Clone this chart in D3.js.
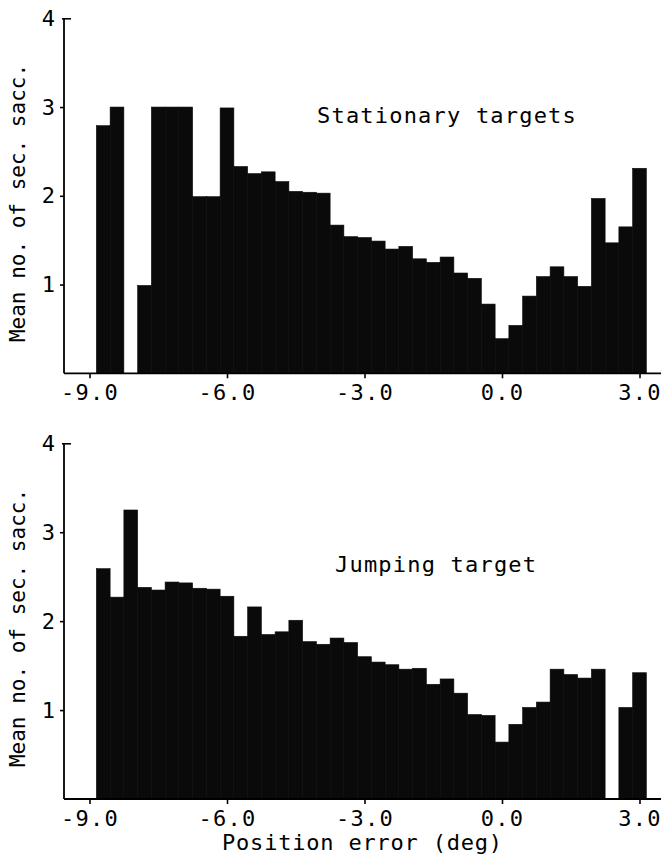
<!DOCTYPE html>
<html>
<head>
<meta charset="utf-8">
<script src="https://cdn.jsdelivr.net/npm/d3@7"></script>
<style>
  body { margin: 0; background: #fff; }
  text { font-family: "DejaVu Sans Mono", monospace; fill: #000; }
</style>
</head>
<body>
<div id="chart"></div>
<script>
// bin centres (deg), bin width 0.3
const binWidth = 0.3;
const binCenters = d3.range(41).map(i => +(-9 + i * binWidth).toFixed(1));

const stationaryValues = [
    0, 2.79, 3.0, 0, 0.99, 3.0, 3.0, 3.0, 1.99, 1.99,
    2.99, 2.33, 2.25, 2.27, 2.16, 2.05, 2.04, 2.03, 1.67, 1.54,
    1.53, 1.49, 1.40, 1.43, 1.29, 1.25, 1.31, 1.13, 1.07, 0.78,
    0.39, 0.54, 0.87, 1.09, 1.20, 1.09, 0.98, 1.97, 1.47, 1.65,
    2.31
];

const jumpingValues = [
    0, 2.59, 2.27, 3.25, 2.38, 2.35, 2.44, 2.43, 2.37, 2.36,
    2.28, 1.83, 2.16, 1.85, 1.88, 2.01, 1.77, 1.74, 1.81, 1.76,
    1.60, 1.54, 1.51, 1.46, 1.47, 1.29, 1.35, 1.19, 0.95, 0.94,
    0.64, 0.84, 1.03, 1.09, 1.46, 1.40, 1.36, 1.46, 0, 1.03,
    1.42
];

const xTicks = [-9, -6, -3, 0, 3];
const yTicks = [1, 2, 3, 4];
const panelTitles = ["Stationary targets", "Jumping target"];
const yTitle = "Mean no. of sec. sacc.";
const xTitle = "Position error (deg)";

const width = 665;
const height = 861;
const svg = d3.select("#chart")
    .append("svg")
    .attr("width", width)
    .attr("height", height);

const x = d3.scaleLinear().domain([-9, 3]).range([89.5, 639.5]);
const axisX = 64;
const lineEnd = 661;

const panels = [
    { values: stationaryValues, title: panelTitles[0], top: 18.3, bottom: 373.3, titleX: 317, titleY: 123, yTitleY: 203 },
    { values: jumpingValues, title: panelTitles[1], top: 443.3, bottom: 799, titleX: 335, titleY: 572, yTitleY: 628 }
];

panels.forEach(p => {
    const y = d3.scaleLinear().domain([0, 4]).range([p.bottom, p.top]);
    const g = svg.append("g");

    g.selectAll("rect")
        .data(binCenters.map((c, i) => ({ c, v: p.values[i] })).filter(d => d.v > 0))
        .enter()
        .append("rect")
        .attr("x", d => x(d.c - binWidth / 2))
        .attr("width", d => x(d.c + binWidth / 2) - x(d.c - binWidth / 2))
        .attr("y", d => y(d.v))
        .attr("height", d => y(0) - y(d.v))
        .attr("fill", "#0a0a0a")
        .attr("stroke", "#0a0a0a")
        .attr("stroke-width", 0.6);

    // y axis
    const yAxis = g.append("g")
        .attr("transform", `translate(${axisX},0)`)
        .call(d3.axisLeft(y).tickValues(yTicks).tickFormat(d3.format("d"))
            .tickSizeInner(4).tickSizeOuter(0).tickPadding(5));
    yAxis.select(".domain").remove();
    yAxis.selectAll("line").attr("stroke", "#000").attr("stroke-width", 1.6);
    yAxis.selectAll(".tick").filter(d => d === 4).select("line").attr("x1", -2).attr("x2", 7);
    yAxis.selectAll("text")
        .style("font-family", "DejaVu Sans Mono, monospace")
        .style("font-size", "22px")
        .attr("fill", "#000");
    g.append("line")
        .attr("x1", axisX).attr("x2", axisX)
        .attr("y1", y(4)).attr("y2", y(0))
        .attr("stroke", "#000").attr("stroke-width", 1.8);

    // x axis
    const xAxis = g.append("g")
        .attr("transform", `translate(0,${p.bottom})`)
        .call(d3.axisBottom(x).tickValues(xTicks).tickSize(5).tickPadding(6).tickFormat(d => d.toFixed(1)));
    xAxis.select(".domain").remove();
    xAxis.selectAll("line").attr("stroke", "#000").attr("stroke-width", 1.6);
    xAxis.selectAll("text")
        .style("font-family", "DejaVu Sans Mono, monospace")
        .style("font-size", "22px")
        .style("letter-spacing", "1.3px")
        .attr("fill", "#000");
    g.append("line")
        .attr("x1", axisX).attr("x2", lineEnd)
        .attr("y1", y(0)).attr("y2", y(0))
        .attr("stroke", "#000").attr("stroke-width", 1.8);

    g.append("text")
        .attr("x", p.titleX)
        .attr("y", p.titleY)
        .style("font-size", "22px")
        .style("letter-spacing", "1.2px")
        .text(p.title);

    g.append("text")
        .attr("transform", `translate(25,${p.yTitleY}) rotate(-90)`)
        .attr("text-anchor", "middle")
        .style("font-size", "21px")
        .text(yTitle);
});

svg.append("text")
    .attr("x", 222)
    .attr("y", 850)
    .style("font-size", "22px")
    .style("letter-spacing", "0.8px")
    .text(xTitle);
</script>
</body>
</html>
